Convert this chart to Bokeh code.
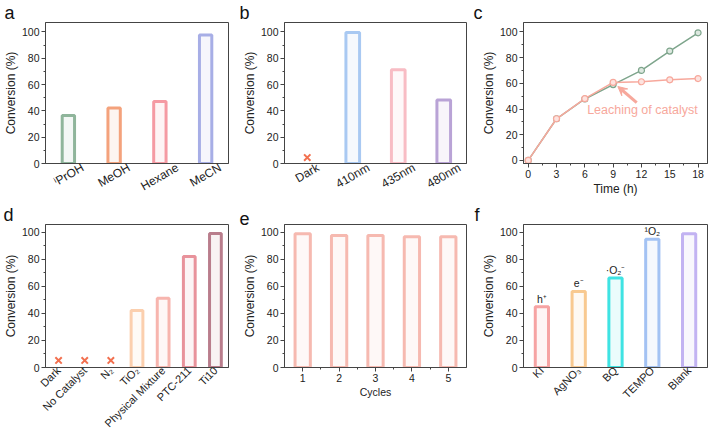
from math import pi, cos
from bokeh.plotting import figure
from bokeh.layouts import gridplot
from bokeh.models import FactorRange, Range1d, Arrow, VeeHead, FixedTicker
from bokeh.core.properties import value
from bokeh.embed import file_html
from bokeh.resources import INLINE

FONT = "Liberation Sans"
AX = "#444444"
TXT = "#222222"
CROSS = "#f2704f"

# ---------------- data ----------------
# (a) solvents
solvents = ["ⁱPrOH", "MeOH", "Hexane", "MeCN"]
solvent_conv = [36.4, 42.1, 47.1, 97.6]
solvent_colors = ["#8fb59b", "#f4a27c", "#f59aa3", "#a7aee6"]

# (b) light source
wavelengths = ["Dark", "410nm", "435nm", "480nm"]
wl_conv = [4.5, 99.5, 71.2, 48.3]
wl_is_bar = [False, True, True, True]
wl_colors = ["#f2704f", "#a9c9f2", "#f8bcc4", "#b9a3d6"]

# (c) time course
time_h = [0, 3, 6, 9, 12, 15, 18]
conv_normal = [0, 32.4, 47.8, 59.0, 70.0, 85.1, 99.3]
conv_leach = [0, 32.4, 48.0, 60.7, 61.2, 62.7, 63.7]
leach_text = "Leaching of catalyst"

# (d) controls
conditions = ["Dark", "No Catalyst", "N₂", "TiO₂", "Physical Mixture", "PTC-211", "Ti10"]
cross_conditions = ["Dark", "No Catalyst", "N₂"]
cross_conv = [5.2, 5.2, 5.2]
bar_conditions = ["TiO₂", "Physical Mixture", "PTC-211", "Ti10"]
bar_cond_conv = [42.1, 51.2, 82.0, 99.0]
cond_colors = ["#fbcfae", "#f7b5ae", "#e8929b", "#b97d8c"]

# (e) recycling
cycles = [1, 2, 3, 4, 5]
cycle_conv = [98.8, 97.6, 97.6, 96.7, 96.7]

# (f) scavengers
scavengers = ["KI", "AgNO₃", "BQ", "TEMPO", "Blank"]
scav_conv = [44.9, 56.2, 66.1, 94.8, 98.8]
scav_species = ["h⁺", "e⁻", "·O₂⁻", "¹O₂", ""]
scav_colors = ["#f6a3a3", "#f8c990", "#3fe3e3", "#a3c2f3", "#c2b3f2"]

y_ticks = [0, 20, 40, 60, 80, 100]
y_minor = [10, 30, 50, 70, 90]

# approximate Arial advance widths (em) used to centre rotated category labels
CHAR_W = {"P": .667, "r": .333, "O": .778, "H": .722, "M": .833, "e": .556, "o": .556,
          "x": .5, "a": .556, "n": .556, "C": .722, "N": .722, "D": .722, "k": .5,
          "m": .833, "ⁱ": .3}


def text_w(s, px):
    return sum(CHAR_W.get(ch, .556) for ch in s) * px


def tint(hexcol, f=0.8):
    r, g, b = (int(hexcol[i:i + 2], 16) for i in (1, 3, 5))
    r, g, b = (int(c + (255 - c) * f) for c in (r, g, b))
    return "#%02x%02x%02x" % (r, g, b)


def style_axis(ax, tick_size="10.5px"):
    ax.axis_line_color = AX
    ax.major_tick_line_color = AX
    ax.minor_tick_line_color = AX
    ax.major_tick_in = 0
    ax.major_tick_out = 4
    ax.minor_tick_in = 0
    ax.minor_tick_out = 2
    ax.major_label_standoff = 2
    ax.axis_label_standoff = 1
    ax.major_label_text_font = FONT
    ax.major_label_text_font_size = tick_size
    ax.major_label_text_color = TXT
    ax.axis_label_text_font = FONT
    ax.axis_label_text_font_size = "12px"
    ax.axis_label_text_font_style = "normal"
    ax.axis_label_text_color = TXT


def make_fig(width, height, x_range, y_range, bl, br, bt, bb, letter):
    p = figure(width=width, height=height, x_range=x_range, y_range=y_range,
               output_backend="svg", toolbar_location=None,
               min_border_left=bl, min_border_right=br,
               min_border_top=bt, min_border_bottom=bb)
    p.grid.visible = False
    p.outline_line_color = AX
    p.outline_line_alpha = 1
    p.outline_line_width = 1
    style_axis(p.xaxis[0])
    style_axis(p.yaxis[0])
    p.yaxis.axis_label = "Conversion (%)"
    p.yaxis.ticker = FixedTicker(ticks=y_ticks, minor_ticks=y_minor)
    # panel letter
    p.title.text = letter
    p.title.align = "left"
    p.title.offset = 3 - bl
    p.title.standoff = 0
    p.title.text_font = FONT
    p.title.text_font_size = "18px"
    p.title.text_line_height = 0.8
    p.title.text_font_style = "normal"
    p.title.text_color = "#111111"
    return p


def cat_axis(p, angle, size="11px", standoff=1):
    ax = p.xaxis[0]
    ax.major_tick_line_color = None
    ax.minor_tick_line_color = None
    ax.major_tick_out = 0
    ax.minor_tick_out = 0
    ax.major_label_orientation = angle
    ax.major_label_text_font_size = size
    ax.major_label_standoff = standoff


def centred_cat_axis(p, names, angle, px, frame_w):
    """numeric axis whose rotated labels are centred under each bar"""
    unit = frame_w / len(names)
    ticks = [round(i + 0.5 + text_w(n, px) * cos(angle) / 2 / unit, 4) for i, n in enumerate(names)]
    p.xaxis.ticker = FixedTicker(ticks=ticks, minor_ticks=[])
    p.xaxis.major_label_overrides = {t: n for t, n in zip(ticks, names)}
    cat_axis(p, angle, "%gpx" % px, 3)


def hollow_bars(p, x, top, colors, width):
    p.vbar(x=x, top=top, width=width, bottom=0,
           fill_color=[tint(c, 0.9) for c in colors], line_color=colors, line_width=3)


ROW1, ROW2 = 202, 243
BB1, BB2 = 36, 78
BT1, BT2 = 15, 16

# ---------------- (a) ----------------
pa = make_fig(236, ROW1, Range1d(0, len(solvents)), Range1d(0, 107.1), 44, 7, BT1, BB1, "a")
centred_cat_axis(pa, solvents, pi / 6, 12, 185)
hollow_bars(pa, [i + 0.5 for i in range(len(solvents))], solvent_conv, solvent_colors, 0.27)

# ---------------- (b) ----------------
pb = make_fig(234, ROW1, Range1d(0, len(wavelengths)), Range1d(0, 107.1), 48, 4, BT1, BB1, "b")
centred_cat_axis(pb, wavelengths, pi / 6, 12, 182)
wl_x = [i + 0.5 for i in range(len(wavelengths))]
hollow_bars(pb, [x for x, b in zip(wl_x, wl_is_bar) if b],
            [v for v, b in zip(wl_conv, wl_is_bar) if b],
            [c for c, b in zip(wl_colors, wl_is_bar) if b], 0.3)
pb.scatter(x=[x for x, b in zip(wl_x, wl_is_bar) if not b],
           y=[v for v, b in zip(wl_conv, wl_is_bar) if not b],
           marker="x", size=9, line_color=CROSS, line_width=2)

# ---------------- (c) ----------------
pc = make_fig(239, ROW1, Range1d(-0.5, 19), Range1d(-2.4, 107.3), 53, 2, BT1, BB1, "c")
pc.xaxis.axis_label = "Time (h)"
pc.xaxis.ticker = FixedTicker(ticks=time_h, minor_ticks=[1.5, 4.5, 7.5, 10.5, 13.5, 16.5])
pc.xaxis.axis_label_standoff = 1
green = "#7ea58c"
pink = "#f7a89c"
pc.line(time_h, conv_normal, line_color=green, line_width=1.5)
pc.scatter(time_h, conv_normal, size=6, fill_color="#dde8e0", line_color=green, line_width=1.2)
pc.line(time_h, conv_leach, line_color=pink, line_width=1.5)
pc.scatter(time_h, conv_leach, size=6, fill_color="#fde3df", line_color=pink, line_width=1.2)
pc.text(x=[12.1], y=[39.3], text=[leach_text], text_font=value(FONT), text_font_size="12.5px",
        text_color=pink, text_align="center", text_baseline="middle")
pc.add_layout(Arrow(end=VeeHead(size=9, line_color=pink, fill_color=pink, line_width=1),
                    x_start=11.5, y_start=45, x_end=9.5, y_end=57.5,
                    line_color=pink, line_width=3))

# ---------------- (d) ----------------
pd_ = make_fig(236, ROW2, FactorRange(*conditions), Range1d(0, 105.7), 45, 8, BT2, BB2, "d")
cat_axis(pd_, pi / 4)
hollow_bars(pd_, bar_conditions, bar_cond_conv, cond_colors, 0.45)
pd_.scatter(x=cross_conditions, y=cross_conv, marker="x", size=9, line_color=CROSS, line_width=2)

# ---------------- (e) ----------------
pe = make_fig(234, ROW2, Range1d(0.5, 5.5), Range1d(0, 105.7), 48, 2, BT2, BB2, "e")
pe.xaxis.axis_label = "Cycles"
pe.xaxis.axis_label_text_font_size = "10.5px"
pe.xaxis.ticker = FixedTicker(ticks=cycles, minor_ticks=[1.5, 2.5, 3.5, 4.5])
pe.xaxis.axis_label_standoff = 1
hollow_bars(pe, cycles, cycle_conv, ["#f6b9b0"] * 5, 0.42)

# ---------------- (f) ----------------
pf = make_fig(239, ROW2, FactorRange(*scavengers), Range1d(0, 105.7), 52, 2, BT2, BB2, "f")
cat_axis(pf, pi / 4)
hollow_bars(pf, scavengers, scav_conv, scav_colors, 0.36)
pf.text(x=scavengers, y=[v + 1.5 for v in scav_conv], text=scav_species,
        text_font=value(FONT), text_font_size="10.5px", text_color=TXT,
        text_align="center", text_baseline="bottom")

grid = gridplot([[pa, pb, pc], [pd_, pe, pf]], toolbar_location=None)

open("out.html", "w").write(file_html(grid, INLINE))
